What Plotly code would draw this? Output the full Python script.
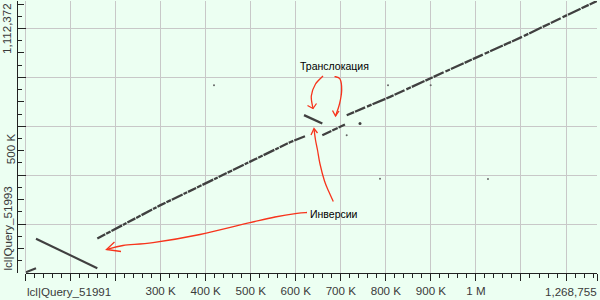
import plotly.graph_objects as go

# ---------------- data (sequence coordinates, bp) ----------------
X_LEN = 1268755   # lcl|Query_51991
Y_LEN = 1112372   # lcl|Query_51993

# collinear part before the rearranged region
main_lo_x = [159400, 298600, 398500, 502200, 587200, 620500]
main_lo_y = [141350, 276550, 365460, 458050, 534670, 559250]
# collinear part after the rearranged region
main_hi_x = [713100, 809200, 903100, 1003000, 1102900, 1202800, 1268755]
main_hi_y = [645290, 720270, 799750, 884150, 966090, 1055000, 1112372]
# translocated blocks
trans_a_x = [618300, 658900]
trans_a_y = [645290, 611280]
trans_b_x = [658900, 709200]
trans_b_y = [563340, 607190]
# inversion at start
inv_x = [23300, 159400]
inv_y = [140120, 19670]
start_x = [1100, 23300]
start_y = [3280, 19670]
# isolated hits
dots_x = [418500, 713100, 804800, 787000, 1026700, 899500]
dots_y = [768200, 563340, 768200, 385940, 384300, 768200]
big_dot_x = [742600]
big_dot_y = [611280]

x_major = list(range(0, 1200001, 100000))
x_label_vals = [300000, 400000, 500000, 600000, 700000, 800000, 900000, 1000000]
x_label_text = ["300 K", "400 K", "500 K", "600 K", "700 K", "800 K", "900 K", "1 M"]
y_major = list(range(0, 1000001, 200000))
y_mid = [100000, 300000, 500000, 700000, 900000, 1100000]
y_mid_text = ["", "", "500 K", "", "", ""]

# ---------------- layout geometry ----------------
W, H = 600, 300
ML, MR, MT, MB = 17, 3, 1, 27
PW = W - ML - MR
PH = H - MT - MB
X0PX = 25.5
XDOM0 = (X0PX - ML) / PW

BG = "#ecfff2"
GRID = "#c8c8c8"
AX = "#222222"
LINE = "#404040"
RED = "#f7341c"
FONT = "Liberation Sans, Arial, sans-serif"
TICKFONT = dict(family=FONT, size=11.6, color="#3a3a3a")


def p2d(px, py):
    """screen pixel of the reference -> data coordinates (for hand-drawn notes)"""
    x = (px - X0PX) / (ML + PW - X0PX) * X_LEN
    y = (MT + PH - py) / PH * Y_LEN
    return x, y


def smooth(pts):
    pts = [p2d(*p) for p in pts]
    d = f"M {pts[0][0]:.1f},{pts[0][1]:.1f}"
    n = len(pts)
    for i in range(n - 1):
        p0 = pts[i - 1] if i > 0 else pts[i]
        p1, p2 = pts[i], pts[i + 1]
        p3 = pts[i + 2] if i + 2 < n else pts[i + 1]
        c1 = (p1[0] + (p2[0] - p0[0]) / 6, p1[1] + (p2[1] - p0[1]) / 6)
        c2 = (p2[0] - (p3[0] - p1[0]) / 6, p2[1] - (p3[1] - p1[1]) / 6)
        d += f" C {c1[0]:.1f},{c1[1]:.1f} {c2[0]:.1f},{c2[1]:.1f} {p2[0]:.1f},{p2[1]:.1f}"
    return d


def head(a, tip, b):
    a, tip, b = p2d(*a), p2d(*tip), p2d(*b)
    return f"M {a[0]:.1f},{a[1]:.1f} L {tip[0]:.1f},{tip[1]:.1f} L {b[0]:.1f},{b[1]:.1f}"


arrows = [
    (smooth([(323, 76), (315.5, 84), (311.3, 96), (313, 108.5)]),
     head((307.5, 105.5), (313, 108.5), (316.5, 103.5))),
    (smooth([(334.5, 76.5), (340, 79), (341.7, 90), (339.5, 104), (335.5, 116)]),
     head((332.5, 110.5), (335.5, 116), (339, 111))),
    (smooth([(333.3, 201.5), (329, 192), (324.5, 181), (320, 164), (317.5, 150), (315.5, 140), (314, 129)]),
     head((311, 135), (314, 128.5), (317.5, 133))),
    (smooth([(307, 212.5), (297, 213.3), (275, 217), (250, 222.7), (200, 234.5),
             (153, 242.7), (123, 245.5), (107, 249.5)]),
     head((114.5, 242), (106.5, 249.5), (121, 251.5))),
]

fig = go.Figure()

seg_style = dict(mode="lines", hoverinfo="skip", showlegend=False)
fig.add_trace(go.Scatter(x=main_lo_x, y=main_lo_y,
                         line=dict(color=LINE, width=2.3, dash="9px,1px,5px,1px,12px,1px,4px,1px"),
                         **seg_style))
fig.add_trace(go.Scatter(x=main_hi_x, y=main_hi_y,
                         line=dict(color=LINE, width=2.3, dash="8px,1px,11px,2px,5px,1px,14px,1px"),
                         **seg_style))
fig.add_trace(go.Scatter(x=trans_a_x, y=trans_a_y, line=dict(color=LINE, width=2.4), **seg_style))
fig.add_trace(go.Scatter(x=trans_b_x, y=trans_b_y,
                         line=dict(color=LINE, width=2.3, dash="10px,1px,6px,1px"), **seg_style))
fig.add_trace(go.Scatter(x=inv_x, y=inv_y, line=dict(color=LINE, width=2.1), **seg_style))
fig.add_trace(go.Scatter(x=start_x, y=start_y, line=dict(color=LINE, width=2.1), **seg_style))
fig.add_trace(go.Scatter(x=dots_x, y=dots_y, mode="markers", hoverinfo="skip", showlegend=False,
                         marker=dict(color="#666666", size=2, line=dict(width=0))))
fig.add_trace(go.Scatter(x=big_dot_x, y=big_dot_y, mode="markers", hoverinfo="skip", showlegend=False,
                         marker=dict(color=LINE, size=3, line=dict(width=0))))
# placeholder trace for the overlay (label) axes
fig.add_trace(go.Scatter(x=[None], y=[None], xaxis="x2", yaxis="y2", mode="markers",
                         hoverinfo="skip", showlegend=False))

shapes = []
for curve, hd in arrows:
    for p in (curve, hd):
        shapes.append(dict(type="path", path=p, xref="x", yref="y",
                           line=dict(color=RED, width=1.3), layer="above"))

annotations = [
    dict(text="Транслокация", x=p2d(334.5, 65.5)[0], y=p2d(334.5, 65.5)[1], xref="x", yref="y",
         showarrow=False, font=dict(family=FONT, size=10.5, color="#000000")),
    dict(text="Инверсии", x=p2d(334, 214)[0], y=p2d(334, 214)[1], xref="x", yref="y",
         showarrow=False, font=dict(family=FONT, size=10.5, color="#000000")),
    dict(text="lcl|Query_51991", x=0, y=0, xref="x", yref="paper", xanchor="left", yanchor="top",
         yshift=-10, xshift=-1, showarrow=False, font=TICKFONT),
    dict(text="1,268,755", x=X_LEN, y=0, xref="x", yref="paper", xanchor="right", yanchor="top",
         yshift=-10, xshift=2, showarrow=False, font=TICKFONT),
    dict(text="lcl|Query_51993", x=0, y=0, xref="paper", yref="y", xanchor="right", yanchor="bottom",
         xshift=-2, textangle=-90, showarrow=False, font=TICKFONT),
    dict(text="1,112,372", x=0, y=Y_LEN, xref="paper", yref="y", xanchor="right", yanchor="top",
         xshift=-2, textangle=-90, showarrow=False, font=TICKFONT),
]

fig.update_layout(
    width=W, height=H,
    margin=dict(l=ML, r=MR, t=MT, b=MB, pad=0),
    paper_bgcolor=BG, plot_bgcolor=BG,
    showlegend=False,
    shapes=shapes,
    annotations=annotations,
    xaxis=dict(domain=[XDOM0, 1], range=[0, X_LEN], anchor="y",
               showline=True, linecolor=AX, linewidth=1,
               tickmode="array", tickvals=x_major, ticks="outside", ticklen=7, tickwidth=1, tickcolor=AX,
               showticklabels=False, showgrid=True, gridcolor=GRID, gridwidth=1,
               zeroline=True, zerolinecolor=GRID, zerolinewidth=1,
               minor=dict(dtick=20000, tick0=0, ticks="outside", ticklen=3.5, tickwidth=1,
                          tickcolor=AX, showgrid=False)),
    xaxis2=dict(domain=[XDOM0, 1], range=[0, X_LEN], overlaying="x", anchor="y", side="bottom",
                tickmode="array", tickvals=x_label_vals + [X_LEN], ticktext=x_label_text + [""],
                ticks="outside", ticklen=7, tickwidth=1, tickcolor=AX,
                showgrid=False, zeroline=False, showline=False, tickfont=TICKFONT),
    yaxis=dict(domain=[0, 1], range=[0, Y_LEN], anchor="free", position=0, side="left",
               showline=True, linecolor=AX, linewidth=1,
               tickmode="array", tickvals=y_major, ticks="inside", ticklen=7.5, tickwidth=1, tickcolor=AX,
               showticklabels=False, showgrid=True, gridcolor=GRID, gridwidth=1, zeroline=False,
               minor=dict(dtick=50000, tick0=0, ticks="inside", ticklen=3.5, tickwidth=1,
                          tickcolor=AX, showgrid=False)),
    yaxis2=dict(domain=[0, 1], range=[0, Y_LEN], overlaying="y", anchor="free", position=0, side="left",
                tickmode="array", tickvals=y_mid + [Y_LEN], ticktext=y_mid_text + [""],
                ticks="inside", ticklen=5.5, tickwidth=1, tickcolor=AX, tickangle=-90,
                showgrid=False, zeroline=False, showline=False, tickfont=TICKFONT),
)

fig.write_html("out.html")
